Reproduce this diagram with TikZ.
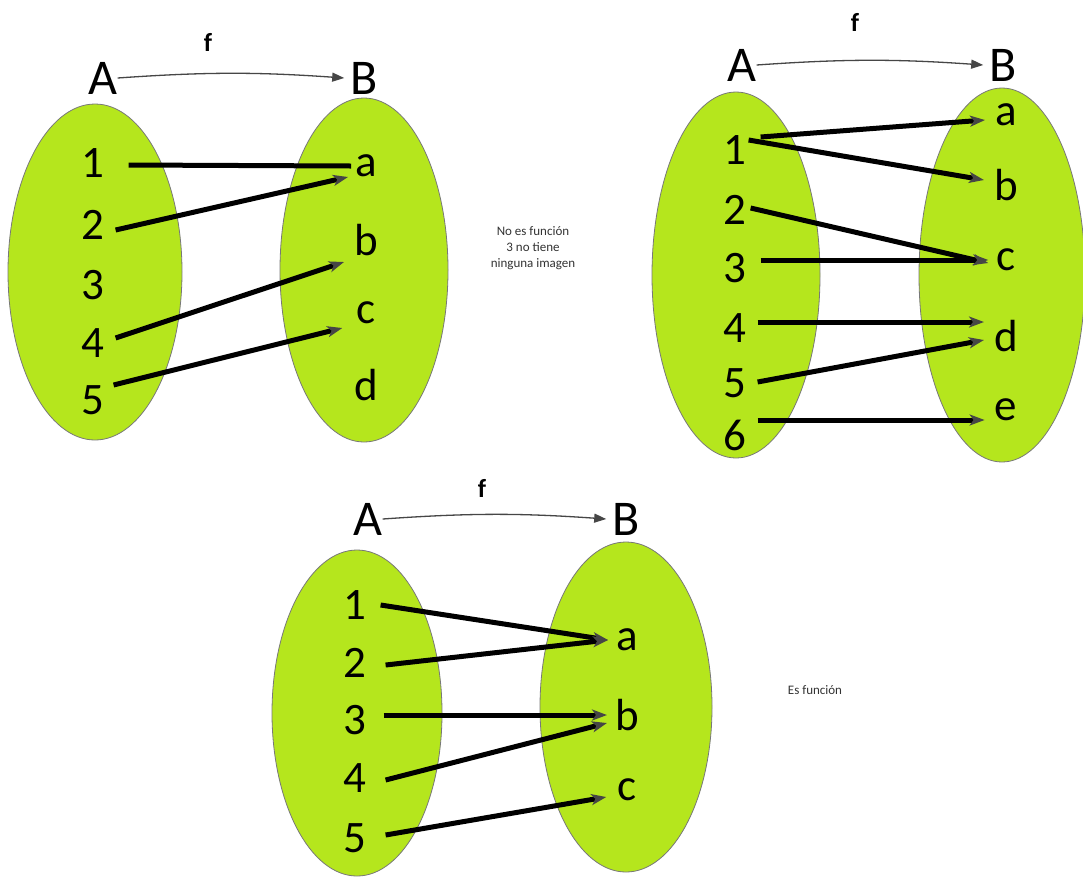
\documentclass[tikz,border=0pt]{standalone}
\usepackage{fontspec}
\setmainfont{Carlito}
\usetikzlibrary{shapes.geometric,arrows.meta}
\definecolor{lime}{RGB}{181,230,29}
\definecolor{rim}{RGB}{120,120,120}
\definecolor{tipc}{RGB}{70,70,70}
\tikzset{
  setel/.style={ellipse, fill=lime, draw=rim, line width=0.8pt, inner sep=0pt},
  elt/.style={font=\fontsize{45}{45}\selectfont, inner sep=0pt, anchor=center},
  setlbl/.style={font=\fontsize{50}{50}\selectfont, inner sep=0pt},
  fl/.style={font=\fontsize{26}{26}\bfseries\selectfont, inner sep=0pt},
  map/.style={line width=5pt, -{Stealth[length=15pt,width=11pt,color=tipc,inset=4pt]}},
  fmap/.style={line width=1.3pt, draw=tipc, -{Triangle[length=12pt,width=9pt]}},
  note/.style={font=\fontsize{13}{16}\selectfont, align=center, text=black!80}
}
\begin{document}
\begin{tikzpicture}[x=1pt,y=-1pt]
\useasboundingbox (0,0) rectangle (1083,879);
\fill[white] (0,0) rectangle (1083,879);
% ---------- diagram 1 ----------
\node[setel, minimum width=174pt, minimum height=336pt] (E1A) at (95,272) {};
\node[setel, minimum width=168pt, minimum height=344pt] (E1B) at (364,270) {};
\node[setlbl] (A1) at (103,78) {A};
\node[setlbl] (B1) at (364,78) {B};
\node[fl] (f1) at (208,42) {f};
\draw[fmap] (A1.east) to[bend left=4] ([xshift=-6pt]B1.west);
\node[elt] (p1) at (93,163) {1};
\node[elt] (p2) at (93,225) {2};
\node[elt] (p3) at (93,285) {3};
\node[elt] (p4) at (93,343) {4};
\node[elt] (p5) at (93,400) {5};
\node[elt] (qa) at (366,166) {a};
\node[elt] (qb) at (366,240) {b};
\node[elt] (qc) at (366,313) {c};
\node[elt] (qd) at (366,385) {d};
\draw[line width=5pt] ([xshift=24pt,yshift=-2pt]p1.east) -- ([xshift=-4pt]qa.west);
\draw[map] ([xshift=11pt,yshift=-5pt]p2.east) -- ([xshift=-7pt,yshift=-11pt]qa.west);
\draw[map] ([xshift=11pt,yshift=5pt]p4.east) -- ([xshift=-10pt,yshift=-22pt]qb.west);
\draw[map] ([xshift=9pt,yshift=15pt]p5.east) -- ([xshift=-14pt,yshift=-15pt]qc.west);
\node[note] (t1) at (533,248) {No es función\\3 no tiene\\ninguna imagen};
% ---------- diagram 2 ----------
\node[setel, minimum width=168pt, minimum height=366pt] (E2A) at (736,275) {};
\node[setel, minimum width=166pt, minimum height=374pt] (E2B) at (1002,275) {};
\node[setlbl] (A2) at (742,65) {A};
\node[setlbl] (B2) at (1003,65) {B};
\node[fl] (f2) at (855,22) {f};
\draw[fmap] (A2.east) to[bend left=4] ([xshift=-6pt]B2.west);
\node[elt] (r1) at (735,150) {1};
\node[elt] (r2) at (735,210) {2};
\node[elt] (r3) at (735,268) {3};
\node[elt] (r4) at (735,328) {4};
\node[elt] (r5) at (735,383) {5};
\node[elt] (r6) at (735,435) {6};
\node[elt] (sa) at (1006,115) {a};
\node[elt] (sb) at (1006,185) {b};
\node[elt] (sc) at (1006,260) {c};
\node[elt] (sd) at (1006,336) {d};
\node[elt] (se) at (1006,410) {e};
\draw[map] ([xshift=14pt,yshift=13pt]r1.east) -- ([xshift=-10pt,yshift=-5pt]sa.west);
\draw[map] ([xshift=2pt,yshift=10pt]r1.east) -- ([xshift=-10pt,yshift=5pt]sb.west);
\draw[map] ([xshift=4pt,yshift=2pt]r2.east) -- ([xshift=-8pt,yshift=-3pt]sc.west);
\draw[map] ([xshift=14pt,yshift=8pt]r3.east) -- ([xshift=-8pt]sc.west);
\draw[map] ([xshift=11pt,yshift=6pt]r4.east) -- ([xshift=-10pt,yshift=14pt]sd.west);
\draw[map] ([xshift=11pt,yshift=1pt]r5.east) -- ([xshift=-10pt,yshift=-4pt]sd.west);
\draw[map] ([xshift=11pt,yshift=15pt]r6.east) -- ([xshift=-10pt,yshift=-10pt]se.west);
% ---------- diagram 3 ----------
\node[setel, minimum width=170pt, minimum height=326pt] (E3A) at (357,713) {};
\node[setel, minimum width=172pt, minimum height=330pt] (E3B) at (626,707) {};
\node[setlbl] (A3) at (368,519) {A};
\node[setlbl] (B3) at (626,519) {B};
\node[fl] (f3) at (482,488) {f};
\draw[fmap] (A3.east) to[bend left=4] ([xshift=-6pt]B3.west);
\node[elt] (u1) at (355,605) {1};
\node[elt] (u2) at (355,663) {2};
\node[elt] (u3) at (355,720) {3};
\node[elt] (u4) at (355,778) {4};
\node[elt] (u5) at (355,838) {5};
\node[elt] (va) at (627,640) {a};
\node[elt] (vb) at (627,715) {b};
\node[elt] (vc) at (627,790) {c};
\draw[map] ([xshift=14pt]u1.east) -- ([xshift=-8pt]va.west);
\draw[map] ([xshift=19pt,yshift=-2pt]u2.east) -- ([xshift=-8pt]va.west);
\draw[map] ([xshift=17pt,yshift=5pt]u3.east) -- ([xshift=-8pt]vb.west);
\draw[map] ([xshift=19pt,yshift=-2pt]u4.east) -- ([xshift=-8pt,yshift=-8pt]vb.west);
\draw[map] ([xshift=19pt,yshift=3pt]u5.east) -- ([xshift=-11pt,yshift=-7pt]vc.west);
\node[note] (t2) at (815,690) {Es función};
\end{tikzpicture}
\end{document}
